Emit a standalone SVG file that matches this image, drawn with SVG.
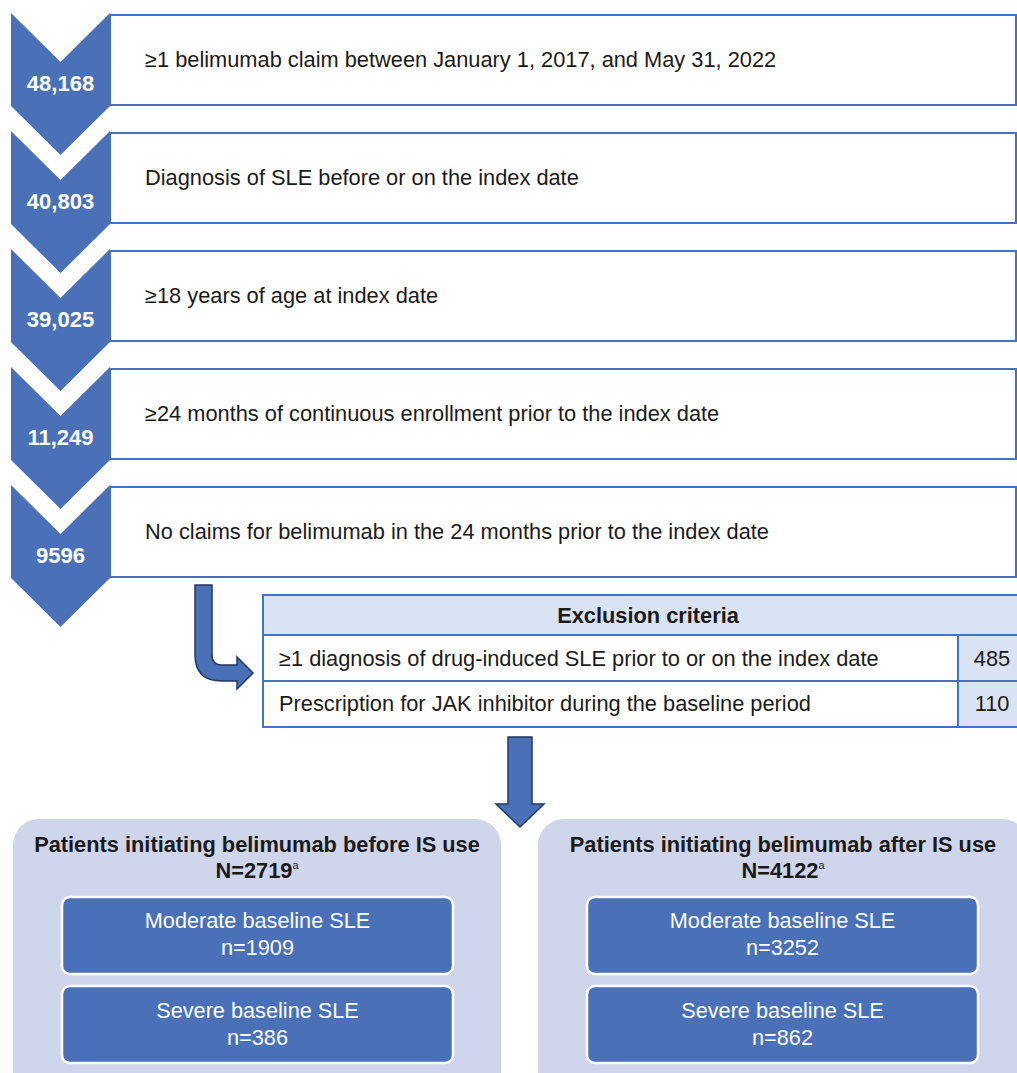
<svg xmlns="http://www.w3.org/2000/svg" width="1017" height="1073" viewBox="0 0 1017 1073">
<style>
.chev{fill:#4a71b8}
.box{fill:#fff;stroke:#4472c4;stroke-width:2}
.num{font-family:"Liberation Sans",Arial,sans-serif;font-size:22px;font-weight:bold;fill:#fff;text-anchor:middle}
.txt{font-family:"Liberation Sans",Arial,sans-serif;font-size:21.8px;fill:#1a1a1a}
.cell{stroke:#4472c4;stroke-width:2}
.hd{font-family:"Liberation Sans",Arial,sans-serif;font-size:21.8px;font-weight:bold;fill:#1a1a1a;text-anchor:middle}
.rt{font-family:"Liberation Sans",Arial,sans-serif;font-size:21.8px;fill:#1a1a1a}
.arrow{fill:#4a71b8;stroke:#1f3864;stroke-width:1.5;stroke-linejoin:miter}
.panel{fill:#cfd5ea}
.inner{fill:#4a71b8;stroke:#fff;stroke-width:2.5}
.pt{font-family:"Liberation Sans",Arial,sans-serif;font-size:21.8px;font-weight:bold;fill:#1a1a1a;text-anchor:middle}
.it{font-family:"Liberation Sans",Arial,sans-serif;font-size:21.7px;fill:#fff;text-anchor:middle}
</style>

<g id="step1">
<rect class="box" x="110" y="15" width="906" height="90"/>
<path class="chev" d="M11,13 L60.5,62 L110,13 L110,106 L60.5,155 L11,106 Z"/>
<text class="num" x="60.5" y="91">48,168</text>
<text class="txt" x="145" y="67">≥1 belimumab claim between January 1, 2017, and May 31, 2022</text>
</g>
<g id="step2">
<rect class="box" x="110" y="133" width="906" height="90"/>
<path class="chev" d="M11,131 L60.5,180 L110,131 L110,224 L60.5,273 L11,224 Z"/>
<text class="num" x="60.5" y="209">40,803</text>
<text class="txt" x="145" y="185">Diagnosis of SLE before or on the index date</text>
</g>
<g id="step3">
<rect class="box" x="110" y="251" width="906" height="90"/>
<path class="chev" d="M11,249 L60.5,298 L110,249 L110,342 L60.5,391 L11,342 Z"/>
<text class="num" x="60.5" y="327">39,025</text>
<text class="txt" x="145" y="303">≥18 years of age at index date</text>
</g>
<g id="step4">
<rect class="box" x="110" y="369" width="906" height="90"/>
<path class="chev" d="M11,367 L60.5,416 L110,367 L110,460 L60.5,509 L11,460 Z"/>
<text class="num" x="60.5" y="445">11,249</text>
<text class="txt" x="145" y="421">≥24 months of continuous enrollment prior to the index date</text>
</g>
<g id="step5">
<rect class="box" x="110" y="487" width="906" height="90"/>
<path class="chev" d="M11,485 L60.5,534 L110,485 L110,578 L60.5,627 L11,578 Z"/>
<text class="num" x="60.5" y="563">9596</text>
<text class="txt" x="145" y="539">No claims for belimumab in the 24 months prior to the index date</text>
</g>

<g id="exclusion">
<rect class="cell" x="263" y="595" width="770" height="40" fill="#dae3f3"/>
<rect class="cell" x="263" y="635" width="695" height="46" fill="#fff"/>
<rect class="cell" x="958" y="635" width="75" height="46" fill="#dae3f3"/>
<rect class="cell" x="263" y="681" width="695" height="46" fill="#fff"/>
<rect class="cell" x="958" y="681" width="75" height="46" fill="#dae3f3"/>
<text class="hd" x="648" y="623">Exclusion criteria</text>
<text class="rt" x="279" y="666">≥1 diagnosis of drug-induced SLE prior to or on the index date</text>
<text class="rt" x="279" y="711">Prescription for JAK inhibitor during the baseline period</text>
<text class="rt" x="992" y="666" text-anchor="middle">485</text>
<text class="rt" x="992" y="711" text-anchor="middle">110</text>
</g>

<g id="connectors">
<path class="arrow" d="M195,585 L212,585 L212,655 Q212,665 222,665 L237,665 L237,657 L253,673 L237,689 L237,681 L222,681 Q195,681 195,655 Z"/>
<path class="arrow" d="M508,737 L532,737 L532,804 L544,804 L520,827 L496,804 L508,804 Z"/>
</g>

<g id="groupBefore">
<rect class="panel" x="13" y="819" width="488" height="290" rx="26"/>
<text class="pt" x="257" y="852">Patients initiating belimumab before IS use</text>
<text class="pt" x="257" y="878">N=2719<tspan font-size="11" dy="-9" font-weight="normal">a</tspan></text>
<g id="before-moderate">
<rect class="inner" x="62" y="897" width="391" height="77" rx="8"/>
<text class="it" x="257.5" y="928">Moderate baseline SLE</text>
<text class="it" x="257.5" y="955">n=1909</text>
</g>
<g id="before-severe">
<rect class="inner" x="62" y="986" width="391" height="77" rx="8"/>
<text class="it" x="257.5" y="1018">Severe baseline SLE</text>
<text class="it" x="257.5" y="1045">n=386</text>
</g>
</g>

<g id="groupAfter">
<rect class="panel" x="538" y="819" width="490" height="290" rx="26"/>
<text class="pt" x="783" y="852">Patients initiating belimumab after IS use</text>
<text class="pt" x="783" y="878">N=4122<tspan font-size="11" dy="-9" font-weight="normal">a</tspan></text>
<g id="after-moderate">
<rect class="inner" x="587" y="897" width="391" height="77" rx="8"/>
<text class="it" x="782.5" y="928">Moderate baseline SLE</text>
<text class="it" x="782.5" y="955">n=3252</text>
</g>
<g id="after-severe">
<rect class="inner" x="587" y="986" width="391" height="77" rx="8"/>
<text class="it" x="782.5" y="1018">Severe baseline SLE</text>
<text class="it" x="782.5" y="1045">n=862</text>
</g>
</g>
</svg>
